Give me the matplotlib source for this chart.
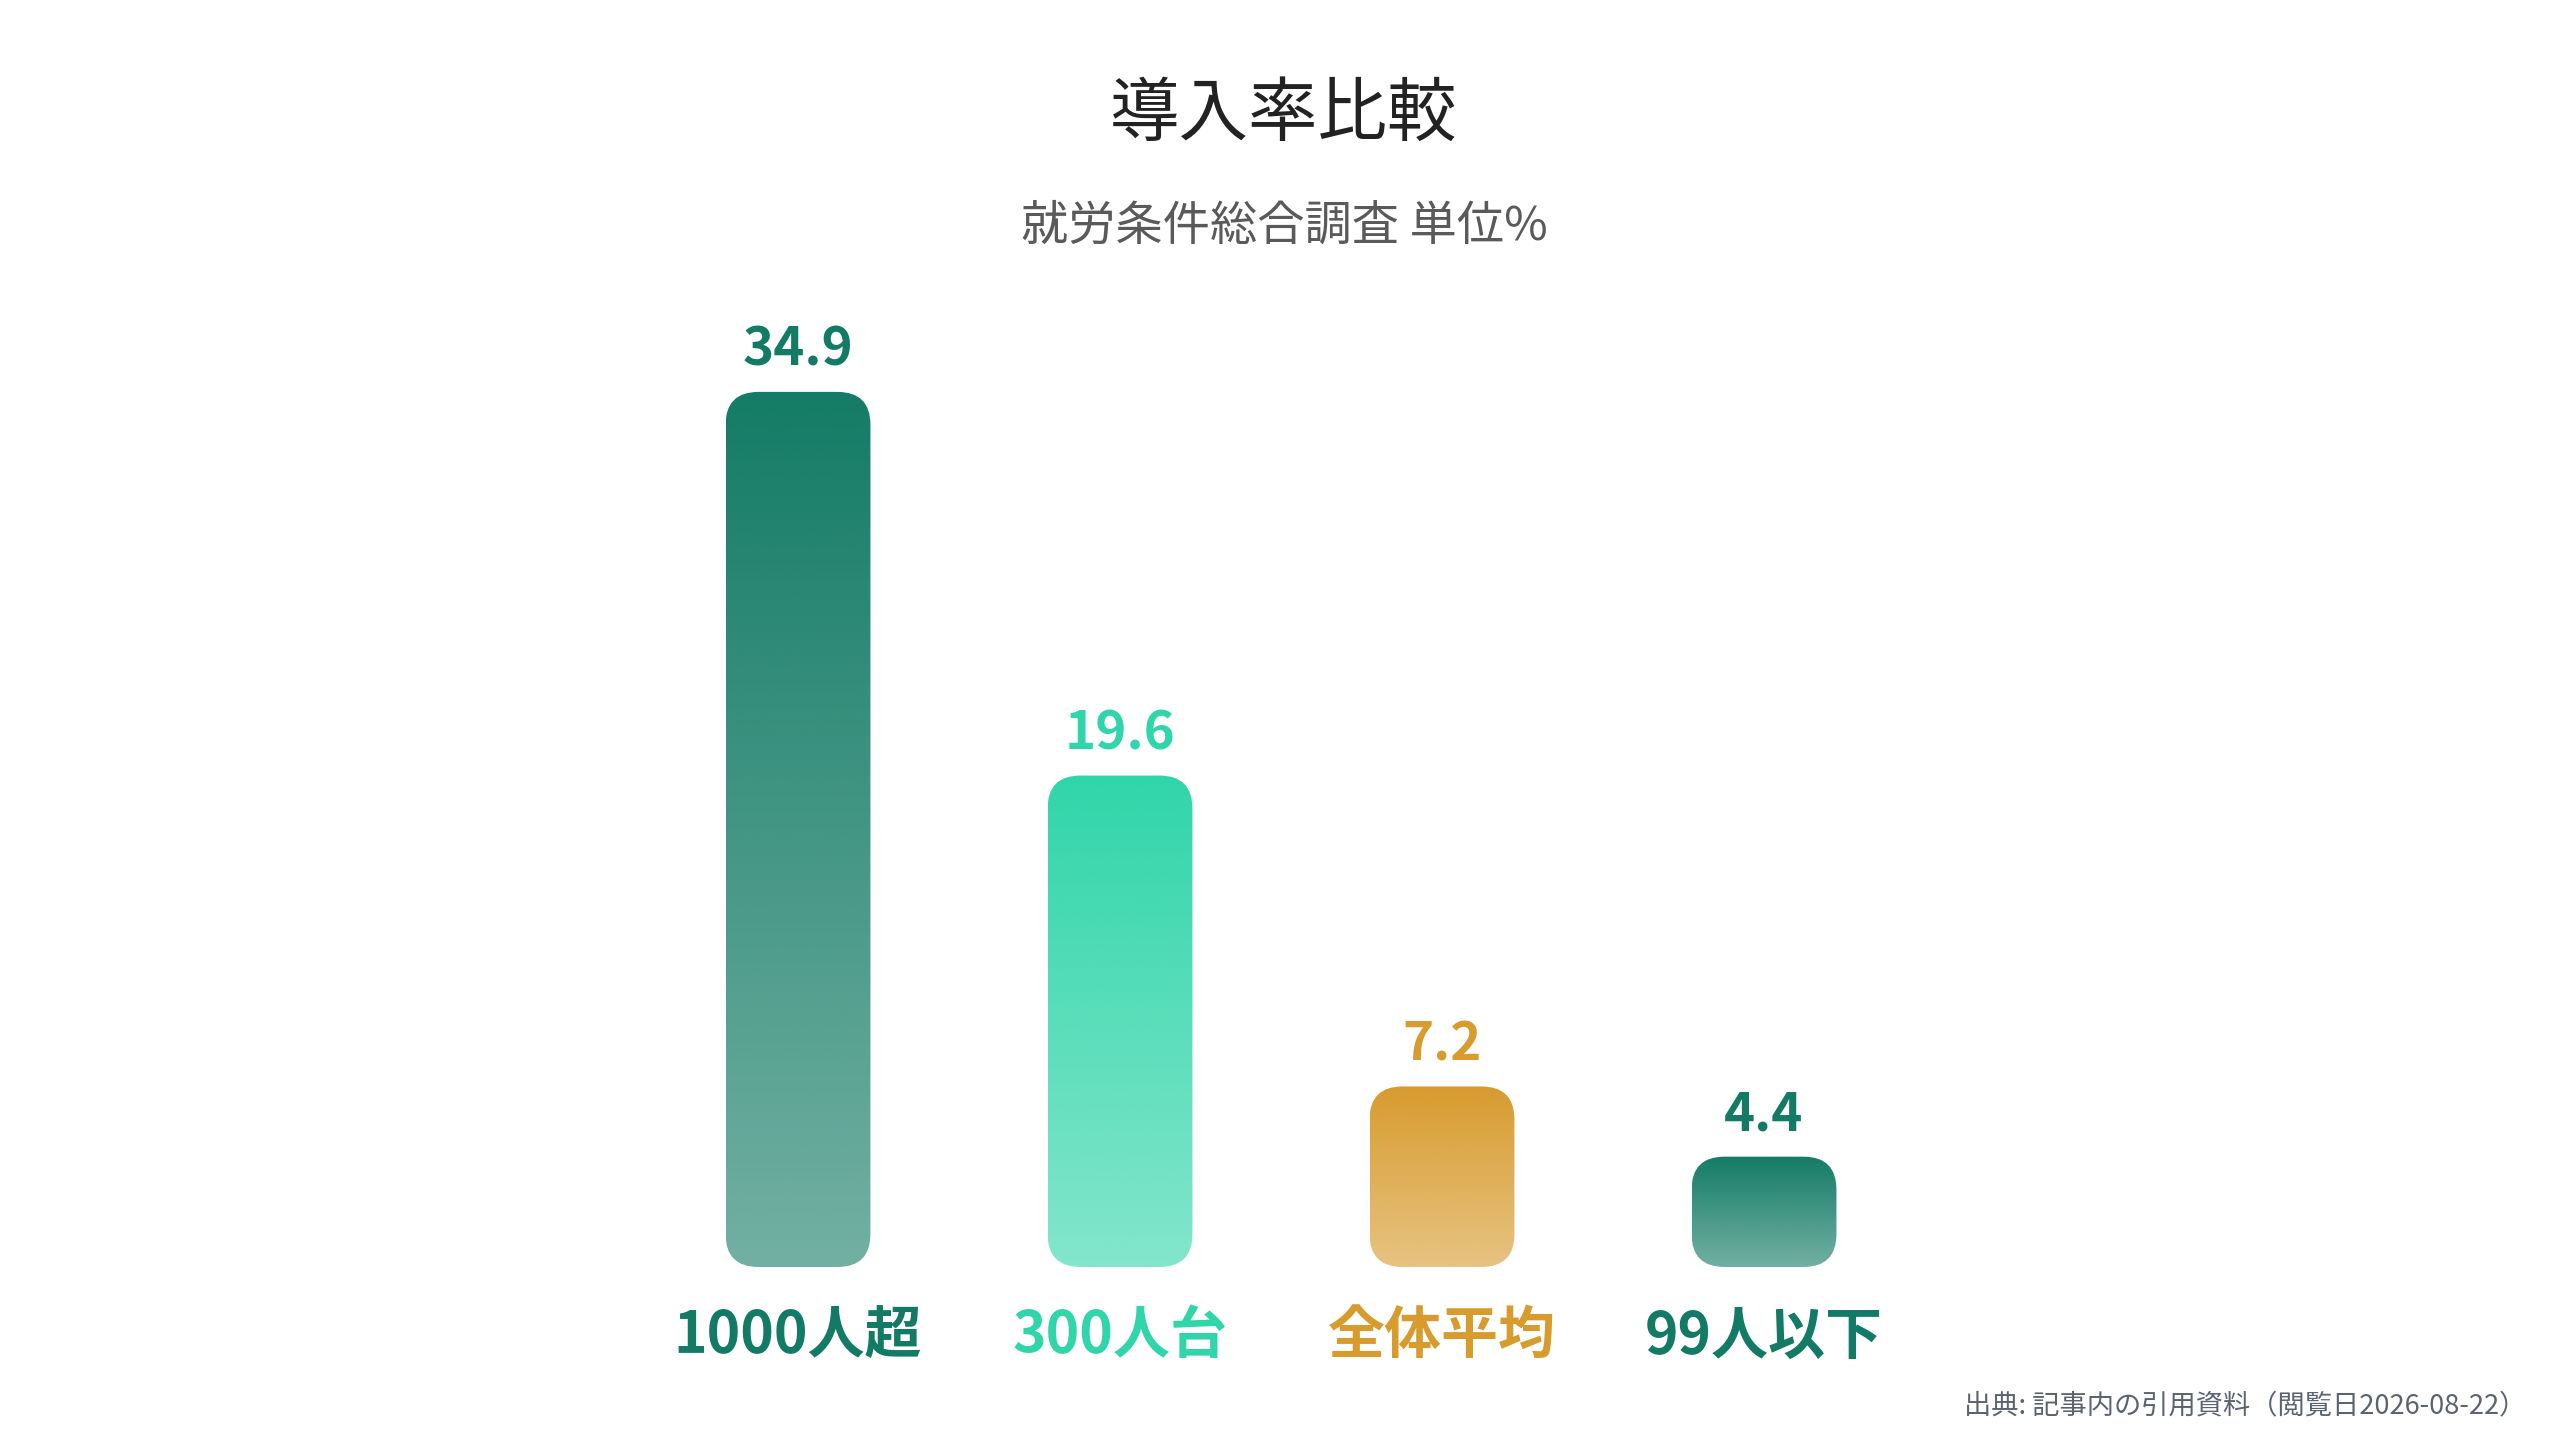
import numpy as np
import matplotlib.pyplot as plt
from matplotlib.patches import FancyBboxPatch
from matplotlib.colors import to_rgb

plt.rcParams['font.family'] = ['Noto Sans CJK JP', 'DejaVu Sans']

# Data
categories = ["1000人超", "300人台", "全体平均", "99人以下"]
values = [34.9, 19.6, 7.2, 4.4]
colors = ["#137b65", "#30d5a9", "#d79b2e", "#137b65"]

title = "導入率比較"
subtitle = "就労条件総合調査 単位%"
source = "出典: 記事内の引用資料（閲覧日2026-08-22）"

W, H = 2560, 1440
fig = plt.figure(figsize=(W / 100, H / 100), dpi=100)
fig.patch.set_facecolor("white")

# axes placed so that bars sit where the reference has them
ax = fig.add_axes([637 / W, 173 / H, 1288 / W, 1008 / H])
ymax = 40.2
bar_w = 0.45
px_x = 1288 / len(values)        # pixels per x unit
px_y = 1008 / ymax               # pixels per y unit
aspect = px_x / px_y
radius = 33 / px_x

for i, (v, c) in enumerate(zip(values, colors)):
    x0 = i - bar_w / 2
    patch = FancyBboxPatch((x0, 0), bar_w, v,
                           boxstyle=f"round,pad=0,rounding_size={radius}",
                           mutation_aspect=aspect,
                           facecolor="none", edgecolor="none")
    ax.add_patch(patch)
    # vertical gradient: full colour at top, faded at bottom
    rgb = to_rgb(c)
    n = 256
    grad = np.ones((n, 1, 4))
    grad[:, 0, :3] = rgb
    grad[:, 0, 3] = np.linspace(1.0, 0.6, n)
    im = ax.imshow(grad, extent=[x0, x0 + bar_w, 0, v], origin="upper",
                   aspect="auto", interpolation="bilinear", zorder=2)
    im.set_clip_path(patch)

    ax.annotate(f"{v}", (i, v), xytext=(0, 30), textcoords="offset points",
                ha="center", va="center", fontsize=38, fontweight="bold",
                color=c)
    ax.annotate(categories[i], (i, 0), xytext=(0, -50),
                textcoords="offset points", ha="center", va="center",
                fontsize=41, fontweight="bold", color=c)

ax.set_xlim(-0.5, len(values) - 0.5)
ax.set_ylim(0, ymax)
ax.axis("off")

fig.text(1284 / W, 1 - 115 / H, title, ha="center", va="center",
         fontsize=50, color="#222222")
fig.text(1284 / W, 1 - 226 / H, subtitle, ha="center", va="center",
         fontsize=34, color="#5a5a5a")
fig.text(2526 / W, 1 - 1406 / H, source, ha="right", va="center",
         fontsize=19.6, color="#5b6270")

fig.savefig("out.png", dpi=100, facecolor="white")
